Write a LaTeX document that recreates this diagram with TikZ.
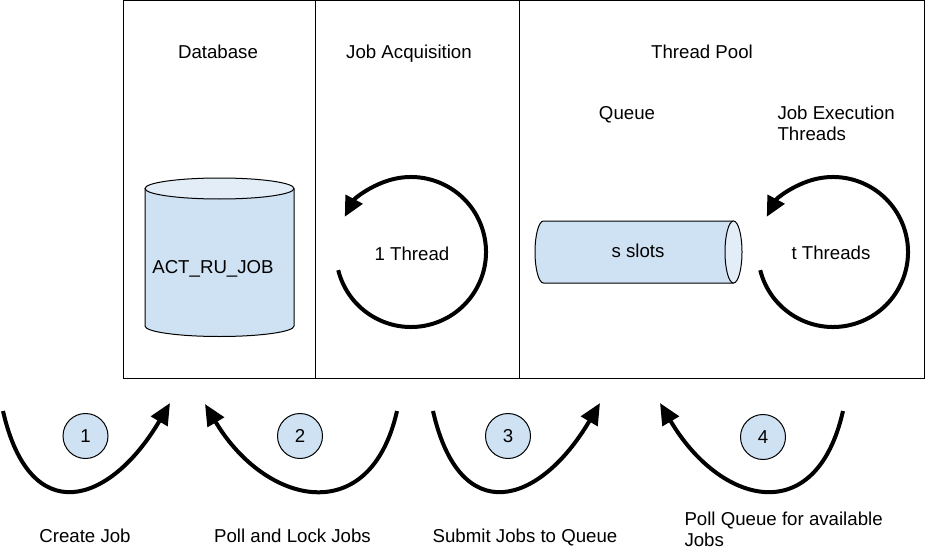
\documentclass[tikz,border=0pt]{standalone}
\usepackage{fontspec}
\setmainfont{Liberation Sans}
\usetikzlibrary{arrows.meta}
\definecolor{slotblue}{RGB}{207,226,243}
\definecolor{lidblue}{RGB}{226,237,248}
\tikzset{every picture/.style={line width=0.75pt}}
\tikzset{
  lbl/.style={inner sep=0pt, anchor=base, font=\fontsize{14}{15.75}\selectfont},
  cycarrow/.style={line width=3pt, -{Triangle[length=15pt,width=14pt]}},
  steparrow/.style={line width=3pt, -{Triangle[length=16pt,width=14pt]}},
  stepnum/.style={circle, draw, fill=slotblue, minimum size=33.75pt, inner sep=0pt, font=\fontsize{14}{16}\selectfont},
  cylbody/.style={draw, fill=slotblue},
  cyllid/.style={draw, fill=lidblue}
}

\begin{document}
\begin{tikzpicture}[x=0.75pt,y=0.75pt,yscale=-1,xscale=1]
\useasboundingbox (0,0) rectangle (927,549);

%Frame
\draw (123,1) rectangle (924,378.5);
\draw (315,1) -- (315,378.5);
\draw (519,1) -- (519,378.5);

% Text Node
\node[lbl] (dbtitle) at (218,59) {Database};
% Text Node
\node[lbl] (acqtitle) at (409,59) {Job Acquisition};
% Text Node
\node[lbl] (pooltitle) at (702,59) {Thread Pool};
% Text Node
\node[lbl] (queuetitle) at (627,120) {Queue};
% Text Node
\node[lbl, anchor=base west, align=left] (exectitle) at (777,141) {Job Execution\\Threads};

%Database cylinder
\filldraw[cylbody] (145,188.5) -- (145,326) arc[start angle=180, end angle=0, x radius=74.5, y radius=10.5] -- (294,188.5);
\filldraw[cyllid] (219.5,188.5) ellipse[x radius=74.5, y radius=10.5];
\node[lbl] (db) at (213,273) {ACT\_RU\_JOB};

%Queue cylinder
\filldraw[cylbody] (733.5,221) -- (543.5,221) arc[start angle=270, end angle=90, x radius=8.5, y radius=31] -- (733.5,283);
\filldraw[cyllid] (733.5,252) ellipse[x radius=8.5, y radius=31];
\node[lbl] (queue) at (638,257) {s slots};

%Circular arrows
\coordinate (acq) at (411,252);
\draw[cycarrow] ([shift={(166:75)}]acq) arc[start angle=166, end angle=-152, radius=75];
\node[lbl] (acqthread) at (412,260) {1 Thread};
\coordinate (exec) at (833,252);
\draw[cycarrow] ([shift={(166:75)}]exec) arc[start angle=166, end angle=-152, radius=75];
\node[lbl] (execthreads) at (831,259) {t Threads};

%Step arrows
\coordinate (s1a) at (3,411);
\coordinate (s1b) at (170,403);
\draw[steparrow] (s1a) .. controls (30,530) and (110,505) .. (s1b);
\coordinate (s2a) at (397,411);
\coordinate (s2b) at (205,404);
\draw[steparrow] (s2a) .. controls (370,530) and (265,505) .. (s2b);
\coordinate (s3a) at (433,411);
\coordinate (s3b) at (600,403);
\draw[steparrow] (s3a) .. controls (460,530) and (540,505) .. (s3b);
\coordinate (s4a) at (843,411);
\coordinate (s4b) at (660,403);
\draw[steparrow] (s4a) .. controls (816,530) and (720,505) .. (s4b);

%Step numbers
\node[stepnum] (n1) at (85.5,436) {1};
\node[stepnum] (n2) at (300,436) {2};
\node[stepnum] (n3) at (508,436) {3};
\node[stepnum] (n4) at (763,437) {4};

% Text Node
\node[lbl] (create) at (85,542) {Create Job};
% Text Node
\node[lbl] (lock) at (292.5,542) {Poll and Lock Jobs};
% Text Node
\node[lbl] (submit) at (525,542) {Submit Jobs to Queue};
% Text Node
\node[lbl, anchor=base west, align=left] (pollq) at (684,546) {Poll Queue for available\\Jobs};

\end{tikzpicture}
\end{document}
